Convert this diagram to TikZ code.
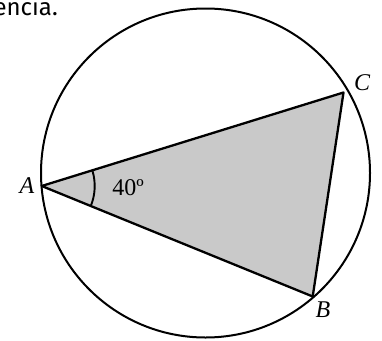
\documentclass[tikz,border=0pt]{standalone}
\usepackage{fontspec}
\usetikzlibrary{calc}
\setmainfont{Liberation Serif}
\newfontfamily\textsans{Fira Sans}
\begin{document}
\begin{tikzpicture}[x=1pt,y=-1pt,
  edge/.style={line width=2.3pt,line join=round},
  lbl/.style={font=\fontsize{24}{26}\selectfont\itshape,inner sep=0pt},
  numlbl/.style={font=\fontsize{24}{26}\selectfont,inner sep=0pt}]
\useasboundingbox (0,0) rectangle (382,340);
\coordinate (O) at (205.5,173);
\coordinate (A) at (41.7,186);
\coordinate (C) at (343.5,92.5);
\coordinate (B) at (312.7,296.5);
\fill[gray!42] (A) -- (C) -- (B) -- cycle;
\draw[edge] (A) -- (C) -- (B) -- cycle;
\draw[line width=2pt] (O) circle (164.5);
\draw[line width=1.9pt] ($(A)+(-16.2:53)$) arc (-16.2:22.2:53);
\node[lbl] (la) at (27,186) {A};
\node[lbl] (lc) at (362,83) {C};
\node[lbl] (lb) at (323,310) {B};
\node[numlbl] (ang) at (128,188) {40º};
\node[font=\textsans\fontsize{24}{26}\selectfont,anchor=base east,inner sep=0pt] (t) at (58,15) {encia.};
\end{tikzpicture}
\end{document}
